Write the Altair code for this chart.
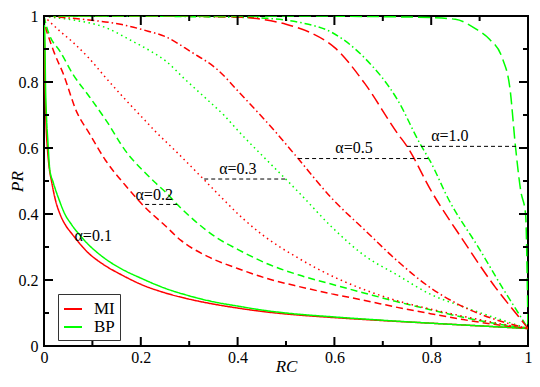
import altair as alt
import pandas as pd

# ---- curve data ----
mi_a01_x = [0, 0.002, 0.004, 0.007, 0.01, 0.016, 0.024, 0.033, 0.045, 0.056, 0.063, 0.077, 0.093, 0.11, 0.127, 0.161, 0.2, 0.25, 0.3, 0.35, 0.4, 0.46, 0.5, 0.6, 0.7, 0.8, 0.9, 1.0]
mi_a01_y = [1.0, 0.80, 0.68, 0.60, 0.55, 0.496, 0.44, 0.40, 0.365, 0.343, 0.33, 0.305, 0.28, 0.26, 0.243, 0.215, 0.187, 0.161, 0.142, 0.127, 0.115, 0.103, 0.097, 0.086, 0.077, 0.069, 0.061, 0.053]
bp_a01_x = [0, 0.002, 0.003, 0.005, 0.008, 0.012, 0.019, 0.0325, 0.043, 0.055, 0.066, 0.073, 0.09, 0.107, 0.125, 0.141, 0.17, 0.195, 0.25, 0.3, 0.35, 0.4, 0.46, 0.5, 0.6, 0.7, 0.8, 0.9, 1.0]
bp_a01_y = [1.0, 0.92, 0.80, 0.70, 0.62, 0.534, 0.496, 0.438, 0.40, 0.372, 0.35, 0.338, 0.31, 0.287, 0.266, 0.25, 0.226, 0.209, 0.175, 0.152, 0.134, 0.121, 0.107, 0.1, 0.088, 0.078, 0.069, 0.061, 0.053]

mi_a02_x = [0, 0.003, 0.01, 0.02, 0.04, 0.068, 0.093, 0.127, 0.168, 0.209, 0.25, 0.283, 0.34, 0.4, 0.46, 0.527, 0.595, 0.663, 0.73, 0.798, 0.866, 0.933, 1.0]
mi_a02_y = [1.0, 0.97, 0.935, 0.893, 0.824, 0.708, 0.646, 0.563, 0.487, 0.42, 0.365, 0.32, 0.27, 0.235, 0.205, 0.18, 0.158, 0.138, 0.117, 0.098, 0.08, 0.065, 0.053]
bp_a02_x = [0, 0.005, 0.012, 0.033, 0.06, 0.093, 0.13, 0.168, 0.209, 0.229, 0.252, 0.276, 0.311, 0.358, 0.4, 0.46, 0.527, 0.595, 0.663, 0.73, 0.798, 0.866, 0.933, 1.0]
bp_a02_y = [1.0, 0.969, 0.94, 0.893, 0.823, 0.757, 0.68, 0.592, 0.525, 0.496, 0.465, 0.428, 0.38, 0.327, 0.293, 0.25, 0.215, 0.187, 0.16, 0.134, 0.11, 0.087, 0.068, 0.053]

mi_a03_x = [0, 0.008, 0.033, 0.06, 0.093, 0.127, 0.168, 0.209, 0.229, 0.276, 0.33, 0.37, 0.412, 0.453, 0.527, 0.595, 0.663, 0.73, 0.798, 0.866, 0.933, 1.0]
mi_a03_y = [1.0, 0.988, 0.954, 0.92, 0.872, 0.814, 0.747, 0.683, 0.652, 0.585, 0.505, 0.445, 0.385, 0.335, 0.265, 0.212, 0.17, 0.137, 0.112, 0.09, 0.07, 0.053]
bp_a03_x = [0, 0.012, 0.06, 0.127, 0.181, 0.222, 0.252, 0.29, 0.337, 0.372, 0.405, 0.453, 0.5, 0.53, 0.595, 0.663, 0.73, 0.798, 0.866, 0.933, 1.0]
bp_a03_y = [1.0, 0.997, 0.988, 0.965, 0.925, 0.892, 0.863, 0.81, 0.747, 0.699, 0.646, 0.574, 0.505, 0.46, 0.36, 0.273, 0.215, 0.157, 0.119, 0.085, 0.053]

mi_a05_x = [0, 0.093, 0.161, 0.215, 0.25, 0.303, 0.358, 0.405, 0.453, 0.48, 0.525, 0.595, 0.663, 0.73, 0.798, 0.866, 0.933, 1.0]
mi_a05_y = [1.0, 0.988, 0.974, 0.954, 0.938, 0.892, 0.838, 0.766, 0.69, 0.646, 0.568, 0.447, 0.351, 0.258, 0.177, 0.119, 0.08, 0.053]
bp_a05_x = [0, 0.2, 0.3, 0.4, 0.46, 0.53, 0.595, 0.663, 0.73, 0.778, 0.798, 0.835, 0.9, 0.947, 0.98, 1.0]
bp_a05_y = [1.0, 1.0, 0.998, 0.996, 0.993, 0.98, 0.95, 0.872, 0.747, 0.61, 0.56, 0.447, 0.293, 0.177, 0.1, 0.053]

mi_a10_x = [0, 0.3, 0.4, 0.45, 0.5, 0.55, 0.6, 0.663, 0.73, 0.75, 0.8, 0.866, 0.933, 0.98, 1.0]
mi_a10_y = [1.0, 0.999, 0.997, 0.99, 0.975, 0.95, 0.905, 0.795, 0.645, 0.605, 0.47, 0.32, 0.177, 0.09, 0.053]
bp_a10_x = [0, 0.5, 0.7, 0.8, 0.85, 0.893, 0.92, 0.947, 0.963, 0.974, 0.985, 0.995, 1.0]
bp_a10_y = [1.0, 1.0, 0.998, 0.995, 0.99, 0.96, 0.93, 0.872, 0.777, 0.606, 0.47, 0.4, 0.053]

methods = ["MI", "BP"]
alphas = ["0.1", "0.2", "0.3", "0.5", "1.0"]
method_colors = ["#ff0000", "#00ff00"]

# annotations
ann_labels = ["\u03b1=0.1", "\u03b1=0.2", "\u03b1=0.3", "\u03b1=0.5", "\u03b1=1.0"]
ann_x = [0.063, 0.189, 0.362, 0.602, 0.80]
ann_y = [0.333, 0.458, 0.536, 0.60, 0.635]
guide_x1 = [0.209, 0.331, 0.525, 0.75]
guide_x2 = [0.276, 0.50, 0.797, 0.978]
guide_y = [0.429, 0.506, 0.568, 0.605]

x_major = [0, 0.2, 0.4, 0.6, 0.8, 1.0]
x_minor = [0.1, 0.3, 0.5, 0.7, 0.9]
y_major = [0, 0.2, 0.4, 0.6, 0.8, 1.0]
y_minor = [0.1, 0.3, 0.5, 0.7, 0.9]

curves = [
    ("MI", "0.1", mi_a01_x, mi_a01_y), ("BP", "0.1", bp_a01_x, bp_a01_y),
    ("MI", "0.2", mi_a02_x, mi_a02_y), ("BP", "0.2", bp_a02_x, bp_a02_y),
    ("MI", "0.3", mi_a03_x, mi_a03_y), ("BP", "0.3", bp_a03_x, bp_a03_y),
    ("MI", "0.5", mi_a05_x, mi_a05_y), ("BP", "0.5", bp_a05_x, bp_a05_y),
    ("MI", "1.0", mi_a10_x, mi_a10_y), ("BP", "1.0", bp_a10_x, bp_a10_y),
]
rows = []
for m, a, xs, ys in curves:
    for i, (xv, yv) in enumerate(zip(xs, ys)):
        rows.append({"method": m, "alpha": a, "x": xv, "y": yv, "ord": i})
df = pd.DataFrame(rows)

W, H = 484, 330
FONT = "Liberation Serif, Times New Roman, serif"
xs_ = alt.Scale(domain=[0, 1], nice=False, zero=False)
ys_ = alt.Scale(domain=[0, 1], nice=False, zero=False)

x_axis = alt.Axis(
    title="RC", values=x_major, format="~g", ticks=False, domain=False, grid=False,
    labelFlush=False, labelOverlap=False, labelPadding=3,
    titleX=W / 2, titleY=20, titleBaseline="middle", titleAlign="center")
y_axis = alt.Axis(
    title="PR", values=y_major, format="~g", ticks=False, domain=False, grid=False,
    labelOverlap=False, labelPadding=6,
    titleX=-27, titleY=H / 2, titleAngle=270, titleBaseline="middle", titleAlign="center")

lines = alt.Chart(df).mark_line(strokeWidth=1.5, clip=True, interpolate="monotone").encode(
    x=alt.X("x:Q", scale=xs_, axis=x_axis),
    y=alt.Y("y:Q", scale=ys_, axis=y_axis),
    color=alt.Color("method:N", scale=alt.Scale(domain=methods, range=method_colors),
                    legend=alt.Legend(orient="none", legendX=14, legendY=H - 52, title=None,
                                      symbolType="stroke", symbolStrokeWidth=2, symbolSize=324,
                                      labelFont=FONT, labelFontSize=17, labelColor="black",
                                      labelOffset=11, strokeColor="#333333", fillColor="white",
                                      padding=5, rowPadding=0)),
    strokeDash=alt.StrokeDash("alpha:N", scale=alt.Scale(
        domain=alphas, range=[[1, 0], [7, 4], [1.5, 3.5], [7, 3, 1.5, 3], [12, 5]]), legend=None),
    order="ord:Q",
)

guides = alt.Chart(pd.DataFrame({"x": guide_x1, "x2": guide_x2, "y": guide_y})).mark_rule(
    color="black", strokeDash=[4, 3], strokeWidth=1).encode(
    x=alt.X("x:Q", scale=xs_, axis=x_axis), x2="x2:Q", y=alt.Y("y:Q", scale=ys_, axis=y_axis))

texts = alt.Chart(pd.DataFrame({"t": ann_labels, "x": ann_x, "y": ann_y})).mark_text(
    align="left", baseline="middle", font=FONT, fontSize=16, color="black").encode(
    x=alt.X("x:Q", scale=xs_, axis=x_axis), y=alt.Y("y:Q", scale=ys_, axis=y_axis), text="t:N")

def xticks(vals, length):
    d = pd.DataFrame({"x": vals})
    b = alt.Chart(d).mark_rule(color="black", strokeWidth=2).encode(
        x=alt.X("x:Q", scale=xs_, axis=x_axis), y=alt.value(H), y2=alt.value(H - length))
    t = alt.Chart(d).mark_rule(color="black", strokeWidth=2).encode(
        x=alt.X("x:Q", scale=xs_, axis=x_axis), y=alt.value(0), y2=alt.value(length))
    return [b, t]

def yticks(vals, length):
    d = pd.DataFrame({"y": vals})
    l = alt.Chart(d).mark_rule(color="black", strokeWidth=2).encode(
        y=alt.Y("y:Q", scale=ys_, axis=y_axis), x=alt.value(0), x2=alt.value(length))
    r = alt.Chart(d).mark_rule(color="black", strokeWidth=2).encode(
        y=alt.Y("y:Q", scale=ys_, axis=y_axis), x=alt.value(W), x2=alt.value(W - length))
    return [l, r]

tick_layers = xticks(x_major, 9) + xticks(x_minor, 5) + yticks(y_major, 9) + yticks(y_minor, 5)

chart = alt.layer(lines, guides, texts, *tick_layers).properties(
    width=W, height=H,
    padding={"left": 36, "top": 8, "right": 4, "bottom": 29},
    autosize=alt.AutoSizeParams(type="none"),
).configure_view(stroke="black", strokeWidth=2).configure_axis(
    labelFont=FONT, labelFontSize=16, labelColor="black",
    titleFont=FONT, titleFontSize=17, titleFontStyle="italic", titleFontWeight="normal", titleColor="black",
)

chart.save("out.html", embed_options={"renderer": "svg", "actions": False})
